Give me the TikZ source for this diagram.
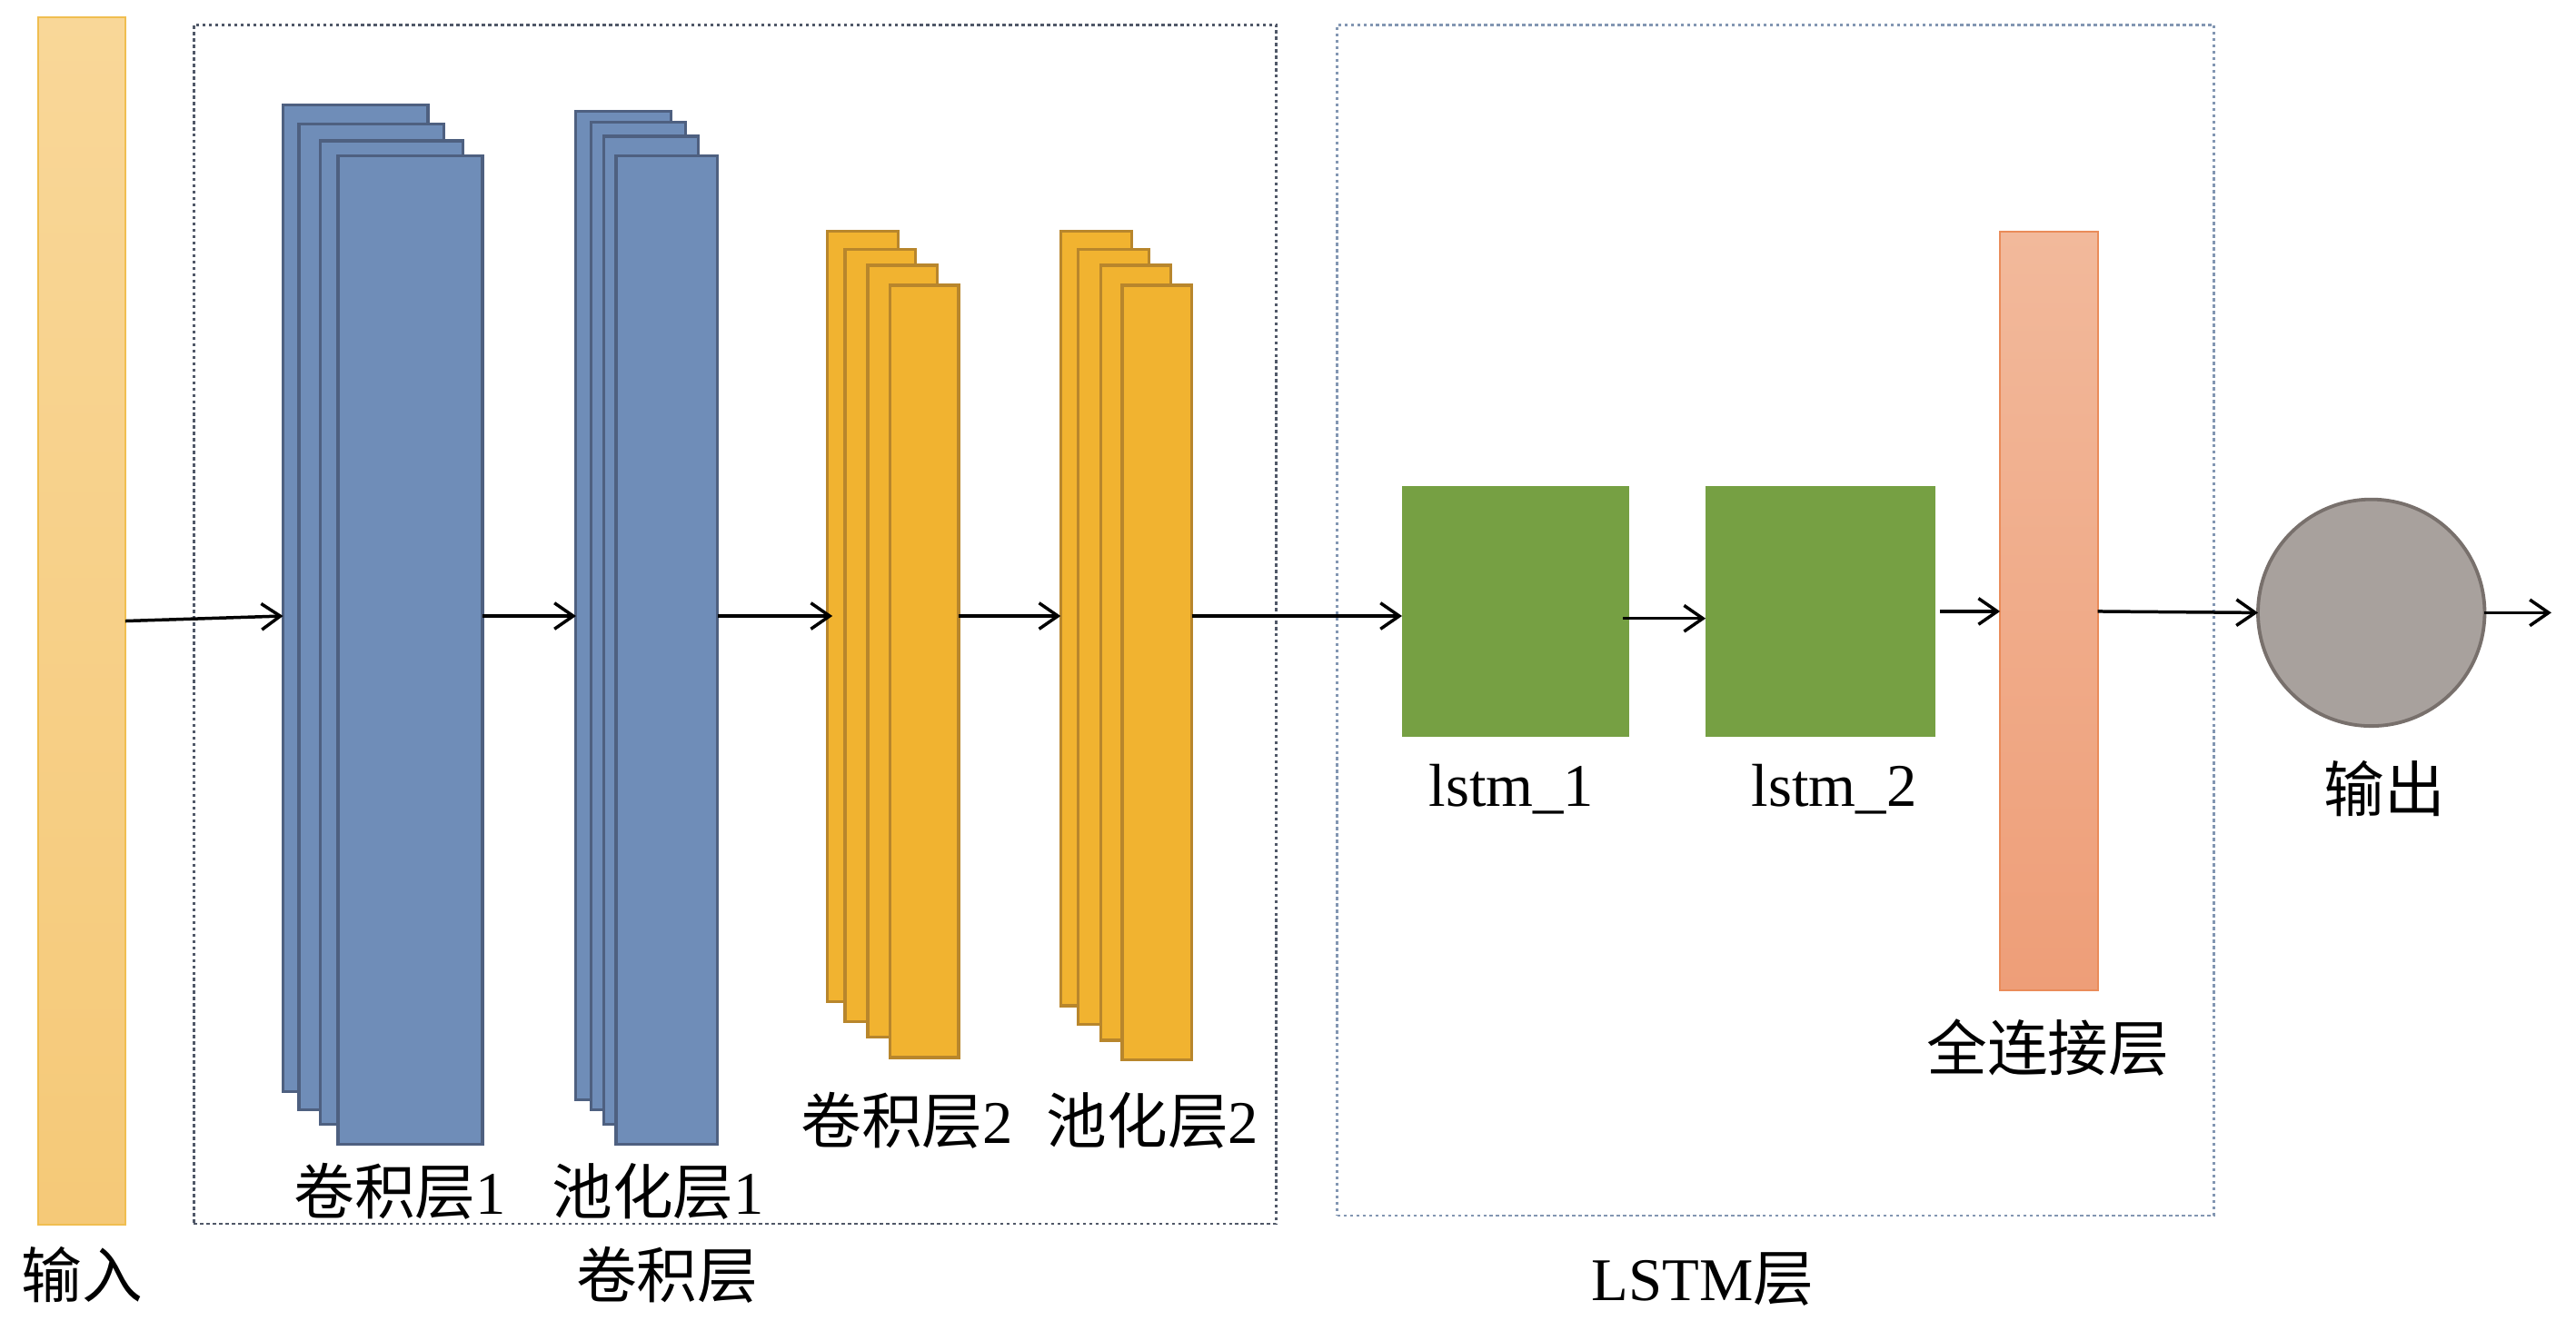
\documentclass[tikz,border=0pt]{standalone}
\usepackage{fontspec}
\setmainfont{Liberation Serif}
\newfontfamily\cjk{Noto Sans CJK SC}
\usetikzlibrary{fit,arrows.meta}
\definecolor{inpTop}{RGB}{249,215,152}
\definecolor{inpBot}{RGB}{245,201,120}
\definecolor{inpLine}{RGB}{240,190,80}
\definecolor{blueFill}{RGB}{111,141,184}
\definecolor{blueLine}{RGB}{78,96,128}
\definecolor{yelFill}{RGB}{241,179,48}
\definecolor{yelLine}{RGB}{184,134,44}
\definecolor{grnFill}{RGB}{118,160,67}
\definecolor{fcTop}{RGB}{242,185,155}
\definecolor{fcBot}{RGB}{238,158,120}
\definecolor{fcLine}{RGB}{234,140,90}
\definecolor{cirFill}{RGB}{168,161,157}
\definecolor{cirLine}{RGB}{120,112,108}
\definecolor{convBox}{RGB}{80,88,104}
\definecolor{lstmBox}{RGB}{130,150,178}
\begin{document}
\begin{tikzpicture}[x=0.02cm,y=-0.02cm,
  box/.style={inner sep=0pt, outer sep=0pt},
  bluerect/.style={box, fill=blueFill, draw=blueLine, line width=1pt},
  yelrect/.style={box, fill=yelFill, draw=yelLine, line width=1pt},
  grnrect/.style={box, fill=grnFill},
  frame/.style={line width=0.9pt, dash pattern=on 1.1pt off 1.1pt},
  lbl/.style={inner sep=0pt, anchor=base, font=\fontsize{21pt}{25pt}\selectfont},
  arr/.style={line width=1.1pt, -{Straight Barb[length=6.5pt,width=9pt,line width=1.1pt]}}
]
\useasboundingbox (0,0) rectangle (1568,804);

% dotted frames
\node[box, draw=convBox, frame, fit={(118,15) (777,745)}] (convframe) {};
\node[box, draw=lstmBox, frame, fit={(814,15) (1347.5,740)}] (lstmframe) {};

% input bar
\node[box, top color=inpTop, bottom color=inpBot, draw=inpLine, line width=0.8pt,
      fit={(23.2,10.5) (76.3,745.6)}] (inp) {};

% conv layer 1
\node[bluerect, fit={(172.3,64) (260.5,664.3)}] (c1a) {};
\node[bluerect, fit={(182,75.6) (270,675.7)}] (c1b) {};
\node[bluerect, fit={(195,85.7) (282,684.5)}] (c1c) {};
\node[bluerect, fit={(205.7,95) (293.7,696.5)}] (c1d) {};

% pool layer 1
\node[bluerect, fit={(350.6,67.9) (408.3,669.3)}] (p1a) {};
\node[bluerect, fit={(360,74.3) (417.2,675.7)}] (p1b) {};
\node[bluerect, fit={(367.5,83) (425.1,684.4)}] (p1c) {};
\node[bluerect, fit={(375,95) (436.8,696.5)}] (p1d) {};

% conv layer 2
\node[yelrect, fit={(503.7,140.7) (546.8,610)}] (c2a) {};
\node[yelrect, fit={(514.4,151.7) (557.3,622)}] (c2b) {};
\node[yelrect, fit={(528.2,161.5) (570.6,631.5)}] (c2c) {};
\node[yelrect, fit={(541.6,173.7) (583.5,643.8)}] (c2d) {};

% pool layer 2
\node[yelrect, fit={(645.6,140.7) (689,612.3)}] (p2a) {};
\node[yelrect, fit={(656,151.7) (699.3,623.5)}] (p2b) {};
\node[yelrect, fit={(670.2,161.5) (712.6,633.3)}] (p2c) {};
\node[yelrect, fit={(683.1,173.7) (725.5,645.3)}] (p2d) {};

% lstm boxes
\node[grnrect, fit={(853.4,296) (991.9,448.4)}] (l1) {};
\node[grnrect, fit={(1038.2,296) (1177.8,448.4)}] (l2) {};

% fully connected
\node[box, top color=fcTop, bottom color=fcBot, draw=fcLine, line width=0.6pt,
      fit={(1217.4,141) (1276.9,603)}] (fc) {};

% output circle
\node[circle, box, fill=cirFill, draw=cirLine, line width=1.2pt,
      minimum size=2.76cm] (outc) at (1443.4,373) {};

\coordinate (axis) at (0,375);
\coordinate (laxis) at (0,376.5);
\coordinate (outend) at (1553,373);

% arrows
\draw[arr] (inp.east) -- (c1a.west |- axis);
\draw[arr] (c1d.east |- axis) -- (p1a.west |- axis);
\draw[arr] (p1d.east |- axis) -- ([xshift=0.06cm]c2a.west |- axis);
\draw[arr] (c2d.east |- axis) -- (p2a.west |- axis);
\draw[arr] (p2d.east |- axis) -- (l1.west |- axis);
\draw[arr] ([xshift=-0.08cm]l1.east |- laxis) -- (l2.west |- laxis);
\draw[arr] ([xshift=0.06cm]l2.east) -- (fc.west |- l2.east);
\draw[arr] (fc.east |- l2.east) -- (outc.west);
\draw[arr] (outc.east) -- (outend);

% labels
\node[lbl] (tinp) at (50,790) {\cjk 输入};
\node[lbl] (tc1) at (243.5,739) {{\cjk 卷积层}1};
\node[lbl] (tp1) at (400.5,739) {{\cjk 池化层}1};
\node[lbl] (tc2) at (552,696) {{\cjk 卷积层}2};
\node[lbl] (tp2) at (701.5,696) {{\cjk 池化层}2};
\node[lbl] (tconv) at (406,790) {\cjk 卷积层};
\node[lbl] (tl1) at (920,491) {lstm\_1};
\node[lbl] (tl2) at (1116.5,491) {lstm\_2};
\node[lbl] (tfc) at (1246.5,652) {\cjk 全连接层};
\node[lbl] (tout) at (1451.5,494) {\cjk 输出};
\node[lbl] (tlstm) at (1036.5,792) {LSTM{\cjk 层}};
\end{tikzpicture}
\end{document}
